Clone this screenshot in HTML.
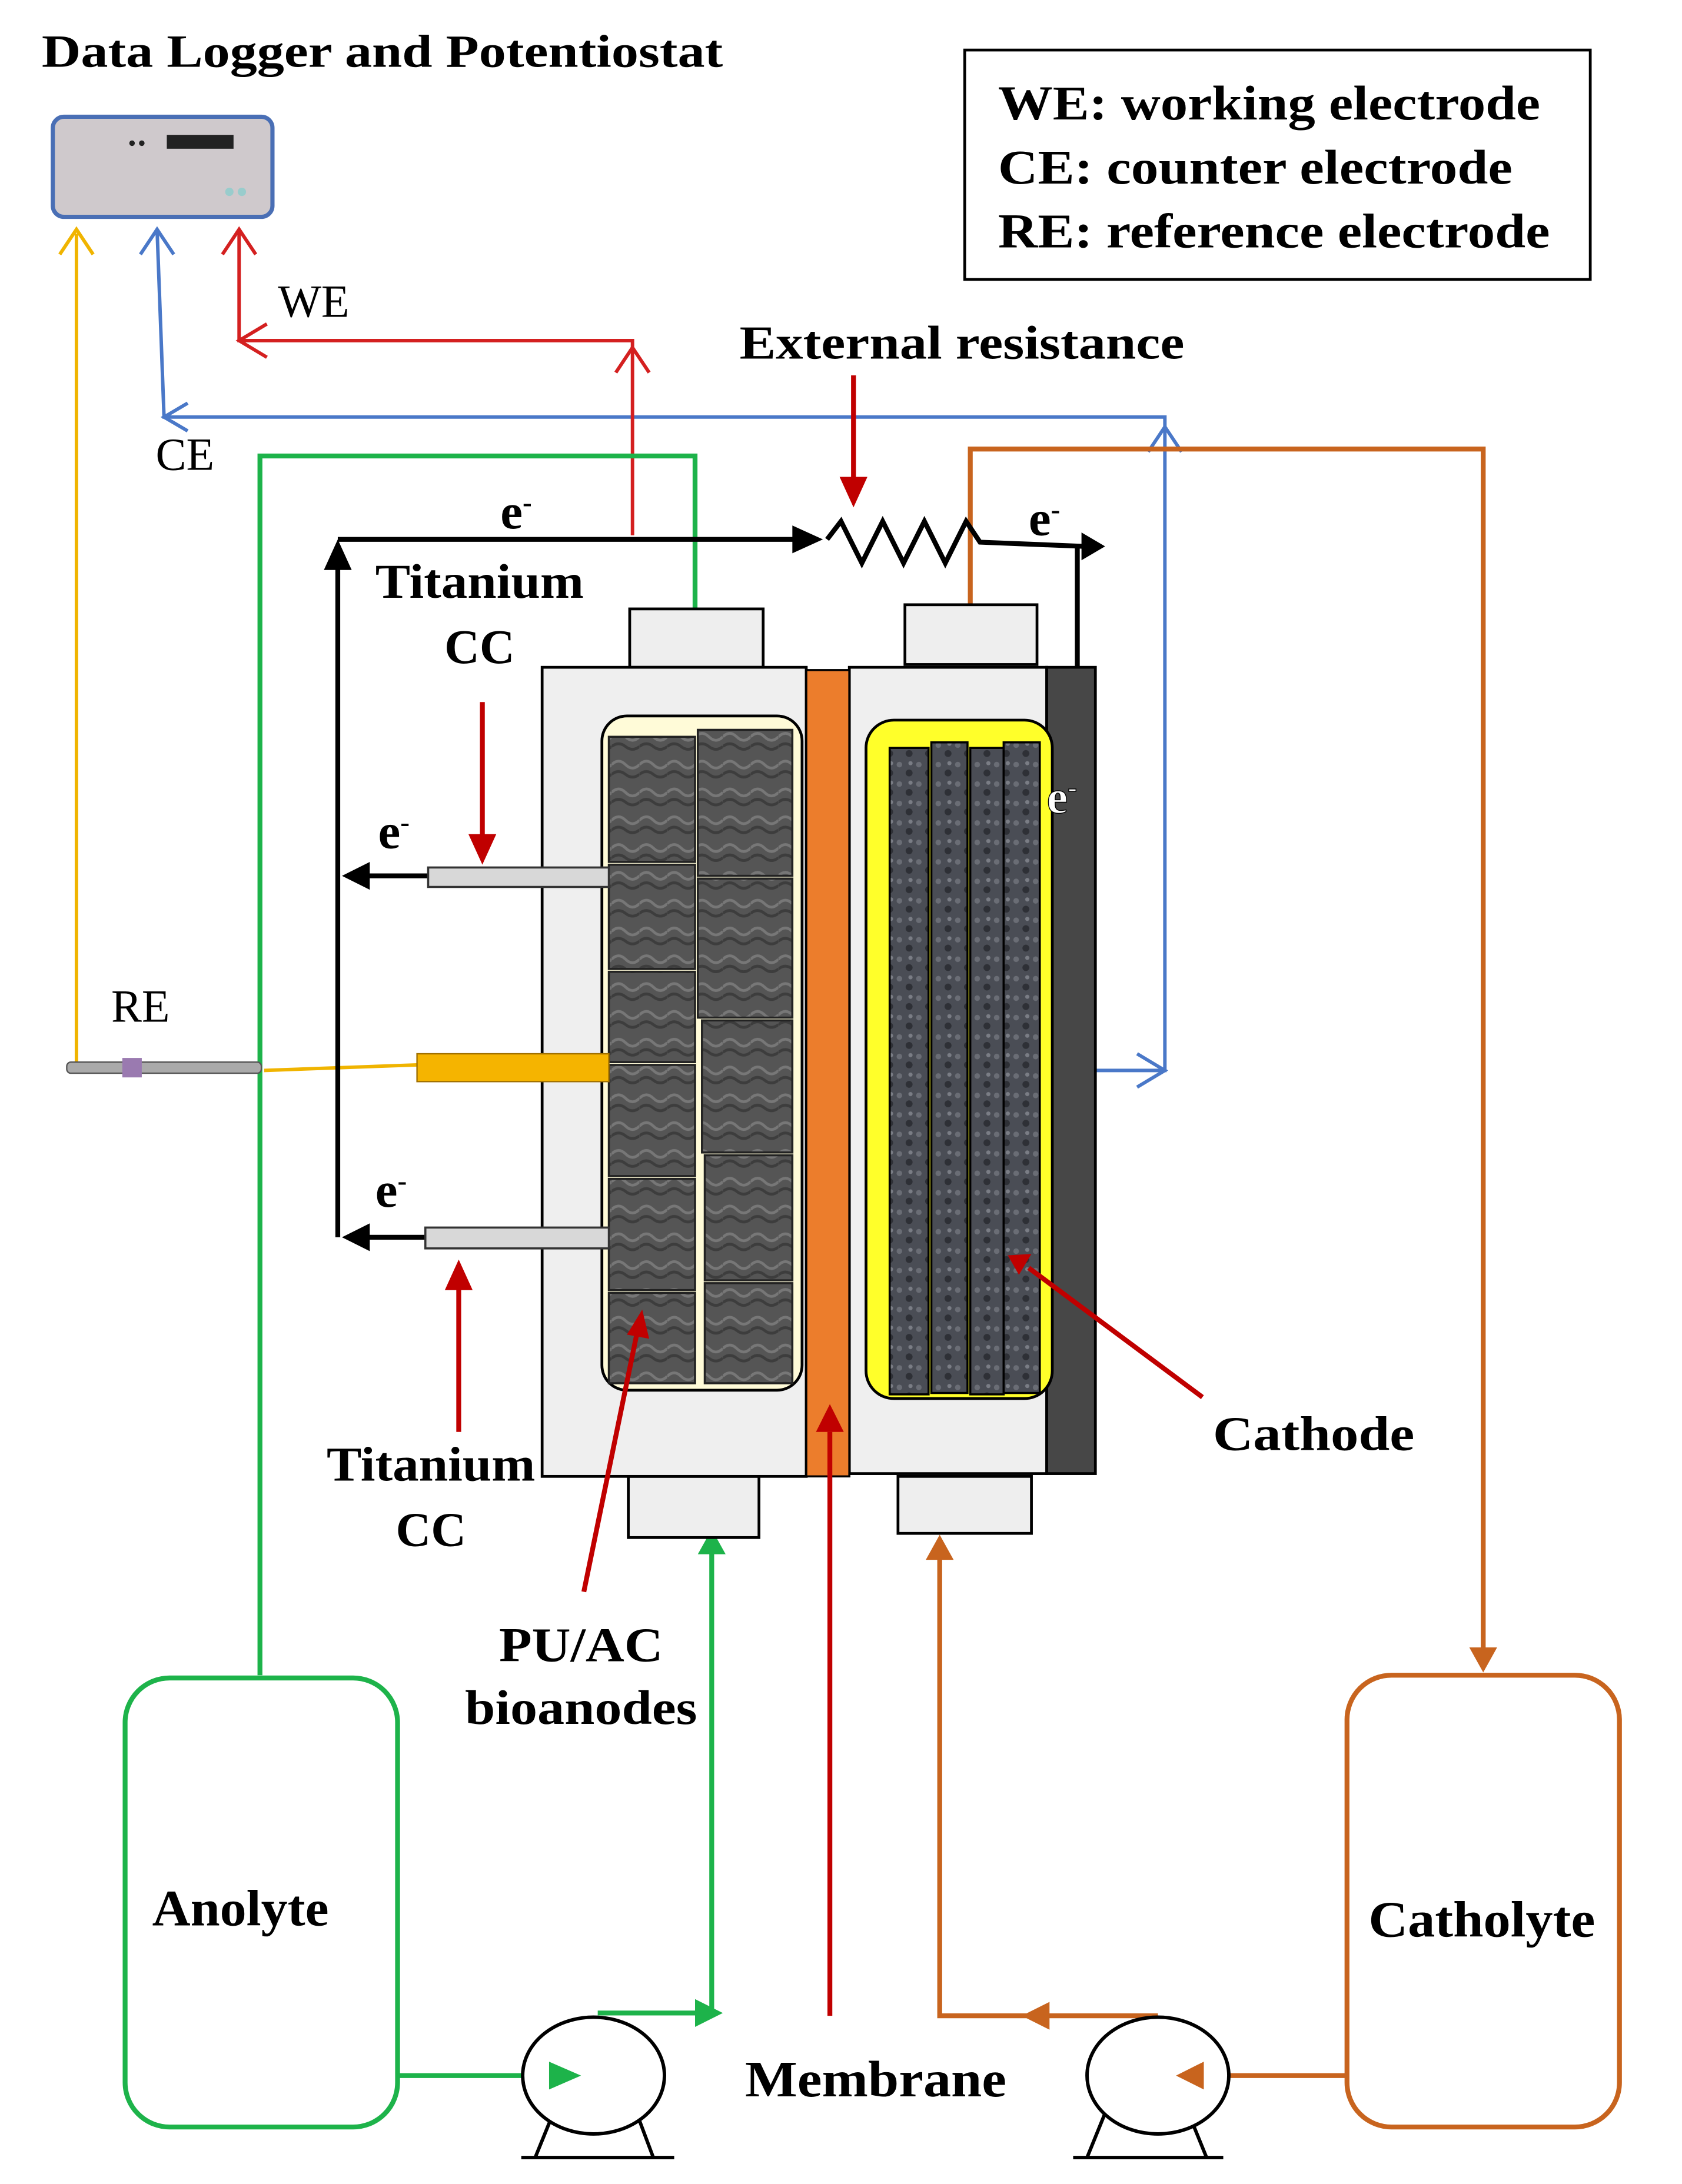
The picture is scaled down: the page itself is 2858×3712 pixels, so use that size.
<!DOCTYPE html>
<html><head><meta charset="utf-8"><style>
html,body{margin:0;padding:0;background:#fff}
svg{display:block}
text{font-family:"Liberation Serif",serif;}
.b{font-weight:bold}
</style></head><body>
<svg width="2858" height="3712" viewBox="0 0 1210 1571" preserveAspectRatio="none" xmlns="http://www.w3.org/2000/svg">
<defs>
<pattern id="tex" width="14" height="14" patternUnits="userSpaceOnUse">
<rect width="14" height="14" fill="#4a4d55"/><circle cx="3" cy="4" r="2" fill="#6a6d75"/><circle cx="10" cy="10" r="2.5" fill="#2e3036"/><circle cx="11" cy="3" r="1.5" fill="#7a7d85"/>
</pattern>
<pattern id="tex2" width="20" height="20" patternUnits="userSpaceOnUse">
<rect width="20" height="20" fill="#555"/><path d="M0 10 Q5 5 10 10 T20 10" stroke="#777" fill="none" stroke-width="2"/><path d="M0 17 Q5 13 10 17 T20 17" stroke="#3d3d3d" fill="none" stroke-width="2"/>
</pattern>
</defs>
<rect width="1210" height="1571" fill="#fff"/>

<text x="30" y="48" class="b" font-size="33" textLength="490" lengthAdjust="spacingAndGlyphs">Data Logger and Potentiostat</text>
<rect x="38" y="84" width="158" height="72" rx="8" fill="#cfc9cc" stroke="#4a6fb5" stroke-width="3"/>
<rect x="120" y="97" width="48" height="10" fill="#222"/>
<circle cx="95" cy="103" r="2" fill="#222"/><circle cx="102" cy="103" r="2" fill="#222"/>
<circle cx="165" cy="138" r="3" fill="#9cc"/><circle cx="174" cy="138" r="3" fill="#9cc"/>

<rect x="694" y="36" width="450" height="165" fill="#fff" stroke="#000" stroke-width="2"/>
<text x="718" y="86" class="b" font-size="35" textLength="390" lengthAdjust="spacingAndGlyphs">WE: working electrode</text>
<text x="718" y="132" class="b" font-size="35" textLength="370" lengthAdjust="spacingAndGlyphs">CE: counter electrode</text>
<text x="718" y="178" class="b" font-size="35" textLength="397" lengthAdjust="spacingAndGlyphs">RE: reference electrode</text>

<g stroke="#f0b400" stroke-width="2.5" fill="none">
<path d="M55 168 V765"/><path d="M43 183 L55 165 L67 183"/>
<path d="M190 770 L300 766"/>
</g>
<g stroke="#4a78c8" stroke-width="2.5" fill="none">
<path d="M113 165 L118 300 H838 V770 H785"/>
<path d="M101 183 L113 165 L125 183"/>
<path d="M135 290 L118 300 L135 310"/>
<path d="M826 325 L838 307 L850 325"/>
<path d="M818 758 L838 770 L818 782"/>
</g>
<g stroke="#d42020" stroke-width="2.5" fill="none">
<path d="M172 165 V245 H455 V385"/>
<path d="M160 183 L172 165 L184 183"/>
<path d="M192 233 L172 245 L192 257"/>
<path d="M443 268 L455 250 L467 268"/>
</g>
<text x="200" y="228" font-size="33">WE</text>
<text x="112" y="338" font-size="33">CE</text>
<text x="80" y="735" font-size="33">RE</text>

<g stroke="#1db34a" stroke-width="3.5" fill="none">
<path d="M187 1205 V328 H500 V438"/>
<rect x="90" y="1207" width="196" height="323" rx="32"/>
<path d="M286 1493 H400"/>
<path d="M430 1448 H512 V1115"/>
</g>
<path d="M502 1118 L512 1100 L522 1118Z" fill="#1db34a"/>
<path d="M500 1438 L520 1448 L500 1458Z" fill="#1db34a"/>

<g stroke="#c8641e" stroke-width="3.5" fill="none">
<path d="M698 435 V323 H1067 V1190"/>
<rect x="969" y="1205" width="196" height="325" rx="32"/>
<path d="M969 1493 H860"/>
<path d="M833 1450 H676 V1120"/>
</g>
<path d="M1057 1185 L1067 1203 L1077 1185Z" fill="#c8641e"/>
<path d="M666 1122 L676 1104 L686 1122Z" fill="#c8641e"/>
<path d="M755 1440 L735 1450 L755 1460Z" fill="#c8641e"/>

<g stroke="#000" stroke-width="3.5" fill="none">
<path d="M243 890 V393"/>
<path d="M243 388 H575"/>
<path d="M595 388 L605 375 L620 405 L635 375 L650 405 L665 375 L680 405 L695 375 L705 390 L780 393"/>
<path d="M775 393 V540"/>
<path d="M308 630 H262"/>
<path d="M306 890 H262"/>
</g>
<path d="M233 410 L243 388 L253 410Z"/>
<path d="M570 378 L592 388 L570 398Z"/>
<path d="M778 383 L795 393 L778 403Z"/>
<path d="M765 532 L775 552 L785 532Z"/>
<path d="M266 620 L246 630 L266 640Z"/>
<path d="M266 880 L246 890 L266 900Z"/>
<text x="360" y="380" class="b" font-size="36">e<tspan dy="-12" font-size="20">-</tspan></text>
<text x="740" y="385" class="b" font-size="36">e<tspan dy="-12" font-size="20">-</tspan></text>
<text x="272" y="610" class="b" font-size="36">e<tspan dy="-12" font-size="20">-</tspan></text>
<text x="270" y="868" class="b" font-size="36">e<tspan dy="-12" font-size="20">-</tspan></text>

<text x="345" y="430" class="b" font-size="35" text-anchor="middle" textLength="150" lengthAdjust="spacingAndGlyphs">Titanium</text>
<text x="345" y="477" class="b" font-size="35" text-anchor="middle">CC</text>
<text x="692" y="258" class="b" font-size="34" text-anchor="middle" textLength="320" lengthAdjust="spacingAndGlyphs">External resistance</text>

<rect x="453" y="438" width="96" height="42" fill="#eee" stroke="#000" stroke-width="2"/>
<rect x="651" y="435" width="95" height="43" fill="#eee" stroke="#000" stroke-width="2"/>
<rect x="452" y="1062" width="94" height="44" fill="#eee" stroke="#000" stroke-width="2"/>
<rect x="646" y="1062" width="96" height="41" fill="#eee" stroke="#000" stroke-width="2"/>
<rect x="390" y="480" width="190" height="582" fill="#efefef" stroke="#000" stroke-width="2"/>
<rect x="611" y="480" width="142" height="580" fill="#efefef" stroke="#000" stroke-width="2"/>
<rect x="580" y="482" width="31" height="580" fill="#ec7d2c" stroke="#000" stroke-width="1.5"/>
<rect x="753" y="480" width="35" height="580" fill="#474747" stroke="#000" stroke-width="2"/>
<rect x="433" y="515" width="144" height="485" rx="18" fill="#fffbd8" stroke="#000" stroke-width="2"/>
<g fill="url(#tex2)" stroke="#222" stroke-width="1.5">
<rect x="438" y="530" width="62" height="90"/><rect x="502" y="525" width="68" height="105"/>
<rect x="438" y="622" width="62" height="75"/><rect x="502" y="632" width="68" height="100"/>
<rect x="438" y="699" width="62" height="65"/><rect x="505" y="734" width="65" height="95"/>
<rect x="438" y="766" width="62" height="80"/><rect x="507" y="831" width="63" height="90"/>
<rect x="438" y="848" width="62" height="80"/><rect x="507" y="923" width="63" height="72"/>
<rect x="438" y="930" width="62" height="65"/>
</g>
<rect x="623" y="518" width="134" height="488" rx="20" fill="#ffff2a" stroke="#000" stroke-width="2"/>
<g fill="url(#tex)" stroke="#000" stroke-width="1.5">
<rect x="640" y="538" width="28" height="465"/><rect x="670" y="534" width="26" height="468"/>
<rect x="698" y="538" width="24" height="465"/><rect x="722" y="534" width="26" height="468"/>
</g>
<text x="753" y="585" class="b" font-size="34" fill="#fff" stroke="#000" stroke-width="0.6">e<tspan dy="-12" font-size="20">-</tspan></text>

<rect x="308" y="624" width="130" height="14" fill="#d8d8d8" stroke="#333" stroke-width="1.5"/>
<rect x="300" y="758" width="138" height="20" fill="#f5b400" stroke="#a07000" stroke-width="1"/>
<rect x="306" y="883" width="132" height="15" fill="#d8d8d8" stroke="#333" stroke-width="1.5"/>
<rect x="48" y="764" width="140" height="8" rx="3" fill="#aaa" stroke="#555"/>
<rect x="88" y="761" width="14" height="14" fill="#9a7ab0"/>

<g stroke="#c00000" stroke-width="3.5" fill="none">
<path d="M347 505 V605"/><path d="M330 1030 V925"/>
<path d="M420 1145 L458 960"/><path d="M865 1005 L740 912"/>
<path d="M597 1450 V1030"/><path d="M614 270 V345"/>
</g>
<g fill="#c00000">
<path d="M337 600 L347 622 L357 600Z"/><path d="M320 928 L330 906 L340 928Z"/>
<path d="M451 960 L462 942 L467 963Z"/><path d="M742 902 L725 903 L733 917Z"/>
<path d="M587 1030 L597 1010 L607 1030Z"/><path d="M604 343 L614 365 L624 343Z"/>
</g>

<text x="310" y="1065" class="b" font-size="35" text-anchor="middle" textLength="150" lengthAdjust="spacingAndGlyphs">Titanium</text>
<text x="310" y="1112" class="b" font-size="35" text-anchor="middle">CC</text>
<text x="418" y="1195" class="b" font-size="35" text-anchor="middle" textLength="118" lengthAdjust="spacingAndGlyphs">PU/AC</text>
<text x="418" y="1240" class="b" font-size="35" text-anchor="middle" textLength="167" lengthAdjust="spacingAndGlyphs">bioanodes</text>
<text x="945" y="1043" class="b" font-size="35" text-anchor="middle" textLength="145" lengthAdjust="spacingAndGlyphs">Cathode</text>
<text x="173" y="1385" class="b" font-size="37" text-anchor="middle" textLength="127" lengthAdjust="spacingAndGlyphs">Anolyte</text>
<text x="1066" y="1393" class="b" font-size="37" text-anchor="middle" textLength="163" lengthAdjust="spacingAndGlyphs">Catholyte</text>
<text x="630" y="1508" class="b" font-size="37" text-anchor="middle" textLength="188" lengthAdjust="spacingAndGlyphs">Membrane</text>

<g stroke="#000" stroke-width="2.5" fill="#fff">
<path d="M385 1552 L398 1520 H458 L470 1552"/>
<ellipse cx="427" cy="1493" rx="51" ry="42"/>
<path d="M782 1552 L795 1520 H855 L868 1552"/>
<ellipse cx="833" cy="1493" rx="51" ry="42"/>
</g>
<path d="M375 1552 H485 M772 1552 H880" stroke="#000" stroke-width="2.5"/>
<path d="M395 1483 L418 1493 L395 1503Z" fill="#1db34a"/>
<path d="M866 1483 L846 1493 L866 1503Z" fill="#c8641e"/>
</svg>
</body></html>
